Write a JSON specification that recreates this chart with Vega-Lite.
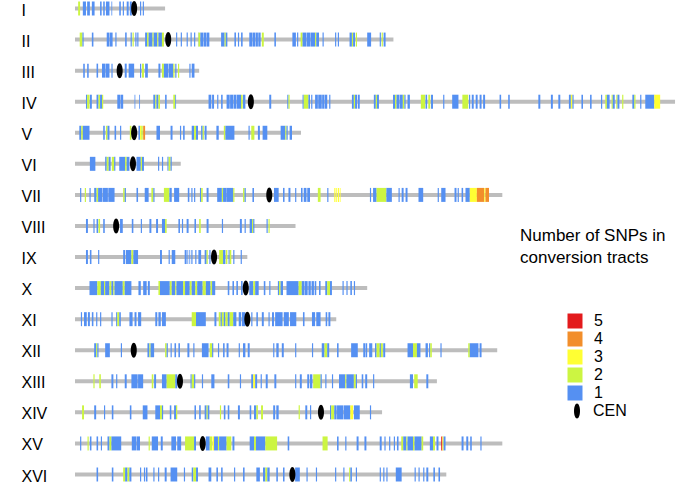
{
  "$schema": "https://vega.github.io/schema/vega-lite/v6.json",
  "width": 602,
  "height": 484,
  "autosize": {"type": "none"},
  "padding": {"left": 75, "top": 0, "right": 0, "bottom": 0},
  "background": "white",
  "config": {"font": "Liberation Sans", "view": {"stroke": null}},
  "resolve": {"scale": {"color": "independent"}, "legend": {"color": "independent"}},
  "datasets": {
    "chroms": [
      {"c":"I","z":0,"len":230,"cen":151,"t":"CEN"},{"c":"II","z":0,"len":813,"cen":238,"t":"CEN"},{"c":"III","z":0,"len":317,"cen":114,"t":"CEN"},{"c":"IV","z":0,"len":1532,"cen":449,"t":"CEN"},
      {"c":"V","z":0,"len":577,"cen":151,"t":"CEN"},{"c":"VI","z":0,"len":270,"cen":148,"t":"CEN"},{"c":"VII","z":0,"len":1091,"cen":496,"t":"CEN"},{"c":"VIII","z":0,"len":563,"cen":105,"t":"CEN"},
      {"c":"IX","z":0,"len":440,"cen":355,"t":"CEN"},{"c":"X","z":0,"len":746,"cen":436,"t":"CEN"},{"c":"XI","z":0,"len":667,"cen":440,"t":"CEN"},{"c":"XII","z":0,"len":1078,"cen":150,"t":"CEN"},
      {"c":"XIII","z":0,"len":924,"cen":268,"t":"CEN"},{"c":"XIV","z":0,"len":784,"cen":628,"t":"CEN"},{"c":"XV","z":0,"len":1091,"cen":326,"t":"CEN"},{"c":"XVI","z":0,"len":948,"cen":555,"t":"CEN"}
    ],
    "levels": [{"n":5},{"n":4},{"n":3},{"n":2},{"n":1}],
    "segs": [
      {"c":"I","s":8,"e":13,"n":2},{"c":"I","s":20,"e":28,"n":1},{"c":"I","s":31,"e":38,"n":1},{"c":"I","s":43,"e":50,"n":1},{"c":"I","s":64,"e":68,"n":1},{"c":"I","s":72,"e":76,"n":1},{"c":"I","s":79,"e":88,"n":1},{"c":"I","s":93,"e":95,"n":1},{"c":"I","s":113,"e":117,"n":1},{"c":"I","s":122,"e":125,"n":1},{"c":"I","s":132,"e":137,"n":1},{"c":"I","s":140,"e":145,"n":1},{"c":"I","s":166,"e":169,"n":1},{"c":"I","s":173,"e":176,"n":1},
      {"c":"II","s":12,"e":19,"n":2},{"c":"II","s":19,"e":22,"n":1},{"c":"II","s":43,"e":47,"n":1},{"c":"II","s":81,"e":88,"n":1},{"c":"II","s":89,"e":96,"n":1},{"c":"II","s":103,"e":106,"n":1},{"c":"II","s":128,"e":132,"n":1},{"c":"II","s":142,"e":145,"n":1},{"c":"II","s":147,"e":150,"n":2},{"c":"II","s":154,"e":157,"n":1},{"c":"II","s":159,"e":162,"n":1},{"c":"II","s":179,"e":184,"n":1},{"c":"II","s":184,"e":188,"n":2},{"c":"II","s":188,"e":198,"n":1},{"c":"II","s":198,"e":201,"n":2},{"c":"II","s":201,"e":210,"n":1},{"c":"II","s":210,"e":213,"n":2},{"c":"II","s":213,"e":222,"n":1},{"c":"II","s":222,"e":227,"n":2},{"c":"II","s":258,"e":261,"n":1},{"c":"II","s":270,"e":273,"n":1},{"c":"II","s":285,"e":288,"n":1},{"c":"II","s":295,"e":298,"n":1},{"c":"II","s":304,"e":307,"n":1},{"c":"II","s":314,"e":315,"n":1},{"c":"II","s":315,"e":320,"n":2},{"c":"II","s":320,"e":328,"n":1},{"c":"II","s":329,"e":336,"n":1},{"c":"II","s":337,"e":343,"n":1},{"c":"II","s":373,"e":382,"n":1},{"c":"II","s":382,"e":385,"n":2},{"c":"II","s":385,"e":389,"n":1},{"c":"II","s":407,"e":411,"n":1},{"c":"II","s":416,"e":419,"n":1},{"c":"II","s":424,"e":428,"n":1},{"c":"II","s":445,"e":452,"n":1},{"c":"II","s":453,"e":460,"n":1},{"c":"II","s":461,"e":467,"n":1},{"c":"II","s":468,"e":474,"n":1},{"c":"II","s":477,"e":482,"n":2},{"c":"II","s":509,"e":513,"n":1},{"c":"II","s":555,"e":564,"n":1},{"c":"II","s":567,"e":570,"n":1},{"c":"II","s":576,"e":581,"n":2},{"c":"II","s":581,"e":590,"n":1},{"c":"II","s":591,"e":600,"n":1},{"c":"II","s":601,"e":613,"n":1},{"c":"II","s":613,"e":616,"n":2},{"c":"II","s":616,"e":623,"n":1},{"c":"II","s":632,"e":635,"n":1},{"c":"II","s":664,"e":667,"n":1},{"c":"II","s":671,"e":674,"n":1},{"c":"II","s":701,"e":707,"n":1},{"c":"II","s":707,"e":710,"n":2},{"c":"II","s":710,"e":715,"n":1},{"c":"II","s":717,"e":720,"n":2},{"c":"II","s":746,"e":756,"n":1},{"c":"II","s":778,"e":781,"n":1},{"c":"II","s":783,"e":786,"n":2},{"c":"II","s":788,"e":793,"n":1},
      {"c":"III","s":21,"e":25,"n":1},{"c":"III","s":31,"e":35,"n":1},{"c":"III","s":55,"e":59,"n":1},{"c":"III","s":69,"e":78,"n":1},{"c":"III","s":79,"e":88,"n":1},{"c":"III","s":93,"e":96,"n":1},{"c":"III","s":127,"e":132,"n":1},{"c":"III","s":137,"e":151,"n":1},{"c":"III","s":166,"e":169,"n":1},{"c":"III","s":171,"e":176,"n":2},{"c":"III","s":179,"e":186,"n":1},{"c":"III","s":213,"e":218,"n":1},{"c":"III","s":222,"e":227,"n":2},{"c":"III","s":227,"e":238,"n":1},{"c":"III","s":239,"e":251,"n":1},{"c":"III","s":251,"e":254,"n":2},{"c":"III","s":256,"e":259,"n":1},{"c":"III","s":263,"e":266,"n":2},{"c":"III","s":292,"e":295,"n":1},{"c":"III","s":298,"e":305,"n":1},
      {"c":"IV","s":28,"e":31,"n":1},{"c":"IV","s":31,"e":37,"n":2},{"c":"IV","s":38,"e":43,"n":1},{"c":"IV","s":55,"e":60,"n":1},{"c":"IV","s":60,"e":64,"n":2},{"c":"IV","s":64,"e":69,"n":1},{"c":"IV","s":69,"e":72,"n":2},{"c":"IV","s":108,"e":115,"n":1},{"c":"IV","s":116,"e":123,"n":1},{"c":"IV","s":152,"e":154,"n":1},{"c":"IV","s":164,"e":166,"n":1},{"c":"IV","s":200,"e":205,"n":1},{"c":"IV","s":205,"e":208,"n":2},{"c":"IV","s":208,"e":213,"n":1},{"c":"IV","s":213,"e":217,"n":2},{"c":"IV","s":230,"e":234,"n":1},{"c":"IV","s":251,"e":256,"n":2},{"c":"IV","s":256,"e":258,"n":1},{"c":"IV","s":341,"e":348,"n":1},{"c":"IV","s":350,"e":355,"n":1},{"c":"IV","s":363,"e":366,"n":1},{"c":"IV","s":373,"e":377,"n":1},{"c":"IV","s":387,"e":395,"n":1},{"c":"IV","s":396,"e":404,"n":1},{"c":"IV","s":405,"e":412,"n":1},{"c":"IV","s":413,"e":424,"n":1},{"c":"IV","s":424,"e":428,"n":2},{"c":"IV","s":429,"e":435,"n":1},{"c":"IV","s":496,"e":501,"n":1},{"c":"IV","s":542,"e":545,"n":1},{"c":"IV","s":545,"e":548,"n":2},{"c":"IV","s":581,"e":584,"n":1},{"c":"IV","s":584,"e":596,"n":2},{"c":"IV","s":596,"e":600,"n":1},{"c":"IV","s":603,"e":606,"n":1},{"c":"IV","s":613,"e":620,"n":1},{"c":"IV","s":621,"e":630,"n":1},{"c":"IV","s":631,"e":637,"n":1},{"c":"IV","s":638,"e":644,"n":1},{"c":"IV","s":649,"e":652,"n":1},{"c":"IV","s":707,"e":712,"n":1},{"c":"IV","s":712,"e":715,"n":2},{"c":"IV","s":715,"e":720,"n":1},{"c":"IV","s":722,"e":727,"n":1},{"c":"IV","s":763,"e":768,"n":1},{"c":"IV","s":768,"e":771,"n":2},{"c":"IV","s":771,"e":776,"n":1},{"c":"IV","s":812,"e":817,"n":1},{"c":"IV","s":817,"e":821,"n":2},{"c":"IV","s":821,"e":828,"n":1},{"c":"IV","s":829,"e":837,"n":1},{"c":"IV","s":837,"e":841,"n":2},{"c":"IV","s":841,"e":844,"n":1},{"c":"IV","s":849,"e":855,"n":1},{"c":"IV","s":883,"e":894,"n":2},{"c":"IV","s":895,"e":899,"n":1},{"c":"IV","s":902,"e":907,"n":2},{"c":"IV","s":909,"e":914,"n":1},{"c":"IV","s":940,"e":943,"n":1},{"c":"IV","s":963,"e":979,"n":1},{"c":"IV","s":989,"e":1004,"n":2},{"c":"IV","s":1006,"e":1009,"n":1},{"c":"IV","s":1013,"e":1018,"n":1},{"c":"IV","s":1023,"e":1028,"n":1},{"c":"IV","s":1033,"e":1038,"n":1},{"c":"IV","s":1042,"e":1047,"n":1},{"c":"IV","s":1084,"e":1088,"n":1},{"c":"IV","s":1106,"e":1110,"n":1},{"c":"IV","s":1183,"e":1188,"n":1},{"c":"IV","s":1215,"e":1220,"n":1},{"c":"IV","s":1234,"e":1239,"n":1},{"c":"IV","s":1261,"e":1266,"n":1},{"c":"IV","s":1266,"e":1270,"n":3},{"c":"IV","s":1270,"e":1273,"n":1},{"c":"IV","s":1293,"e":1297,"n":1},{"c":"IV","s":1315,"e":1319,"n":1},{"c":"IV","s":1343,"e":1346,"n":1},{"c":"IV","s":1354,"e":1358,"n":2},{"c":"IV","s":1358,"e":1365,"n":1},{"c":"IV","s":1370,"e":1373,"n":2},{"c":"IV","s":1373,"e":1378,"n":1},{"c":"IV","s":1382,"e":1385,"n":2},{"c":"IV","s":1385,"e":1390,"n":1},{"c":"IV","s":1397,"e":1400,"n":2},{"c":"IV","s":1423,"e":1428,"n":1},{"c":"IV","s":1428,"e":1431,"n":2},{"c":"IV","s":1443,"e":1446,"n":1},{"c":"IV","s":1456,"e":1479,"n":1},{"c":"IV","s":1479,"e":1494,"n":3},
      {"c":"V","s":11,"e":16,"n":1},{"c":"V","s":16,"e":20,"n":2},{"c":"V","s":20,"e":37,"n":1},{"c":"V","s":72,"e":76,"n":1},{"c":"V","s":79,"e":83,"n":2},{"c":"V","s":83,"e":88,"n":1},{"c":"V","s":101,"e":105,"n":1},{"c":"V","s":115,"e":118,"n":1},{"c":"V","s":140,"e":144,"n":2},{"c":"V","s":162,"e":166,"n":1},{"c":"V","s":166,"e":169,"n":3},{"c":"V","s":169,"e":173,"n":2},{"c":"V","s":174,"e":179,"n":4},{"c":"V","s":208,"e":217,"n":1},{"c":"V","s":244,"e":249,"n":1},{"c":"V","s":268,"e":271,"n":1},{"c":"V","s":276,"e":280,"n":1},{"c":"V","s":298,"e":304,"n":1},{"c":"V","s":304,"e":309,"n":2},{"c":"V","s":309,"e":314,"n":1},{"c":"V","s":322,"e":326,"n":1},{"c":"V","s":326,"e":329,"n":2},{"c":"V","s":331,"e":336,"n":1},{"c":"V","s":361,"e":367,"n":1},{"c":"V","s":380,"e":384,"n":2},{"c":"V","s":384,"e":407,"n":1},{"c":"V","s":443,"e":446,"n":1},{"c":"V","s":450,"e":458,"n":2},{"c":"V","s":467,"e":472,"n":1},{"c":"V","s":479,"e":491,"n":1},{"c":"V","s":525,"e":537,"n":1},{"c":"V","s":537,"e":540,"n":2},{"c":"V","s":540,"e":543,"n":1},{"c":"V","s":548,"e":554,"n":1},
      {"c":"VI","s":38,"e":52,"n":1},{"c":"VI","s":77,"e":81,"n":1},{"c":"VI","s":81,"e":86,"n":2},{"c":"VI","s":86,"e":91,"n":1},{"c":"VI","s":94,"e":100,"n":2},{"c":"VI","s":100,"e":103,"n":1},{"c":"VI","s":113,"e":128,"n":1},{"c":"VI","s":128,"e":132,"n":2},{"c":"VI","s":132,"e":139,"n":1},{"c":"VI","s":157,"e":168,"n":1},{"c":"VI","s":168,"e":171,"n":2},{"c":"VI","s":171,"e":176,"n":1},{"c":"VI","s":212,"e":215,"n":1},{"c":"VI","s":222,"e":225,"n":1},{"c":"VI","s":236,"e":239,"n":1},{"c":"VI","s":239,"e":244,"n":2},{"c":"VI","s":244,"e":247,"n":1},
      {"c":"VII","s":13,"e":16,"n":1},{"c":"VII","s":25,"e":28,"n":2},{"c":"VII","s":37,"e":40,"n":1},{"c":"VII","s":49,"e":55,"n":1},{"c":"VII","s":55,"e":59,"n":2},{"c":"VII","s":59,"e":70,"n":1},{"c":"VII","s":71,"e":84,"n":1},{"c":"VII","s":85,"e":101,"n":1},{"c":"VII","s":123,"e":127,"n":2},{"c":"VII","s":127,"e":130,"n":1},{"c":"VII","s":157,"e":161,"n":1},{"c":"VII","s":178,"e":188,"n":1},{"c":"VII","s":195,"e":200,"n":2},{"c":"VII","s":200,"e":203,"n":1},{"c":"VII","s":227,"e":241,"n":2},{"c":"VII","s":241,"e":247,"n":1},{"c":"VII","s":253,"e":266,"n":1},{"c":"VII","s":288,"e":292,"n":1},{"c":"VII","s":297,"e":300,"n":1},{"c":"VII","s":304,"e":307,"n":1},{"c":"VII","s":319,"e":322,"n":1},{"c":"VII","s":322,"e":326,"n":2},{"c":"VII","s":336,"e":341,"n":1},{"c":"VII","s":363,"e":375,"n":1},{"c":"VII","s":375,"e":378,"n":2},{"c":"VII","s":378,"e":387,"n":1},{"c":"VII","s":387,"e":404,"n":1},{"c":"VII","s":404,"e":407,"n":2},{"c":"VII","s":429,"e":433,"n":2},{"c":"VII","s":433,"e":436,"n":1},{"c":"VII","s":453,"e":457,"n":1},{"c":"VII","s":508,"e":520,"n":1},{"c":"VII","s":531,"e":535,"n":1},{"c":"VII","s":545,"e":550,"n":1},{"c":"VII","s":562,"e":565,"n":1},{"c":"VII","s":577,"e":581,"n":1},{"c":"VII","s":584,"e":591,"n":1},{"c":"VII","s":593,"e":600,"n":1},{"c":"VII","s":620,"e":627,"n":2},{"c":"VII","s":644,"e":647,"n":1},{"c":"VII","s":662,"e":665,"n":3},{"c":"VII","s":667,"e":669,"n":3},{"c":"VII","s":671,"e":674,"n":3},{"c":"VII","s":676,"e":678,"n":3},{"c":"VII","s":753,"e":756,"n":1},{"c":"VII","s":761,"e":770,"n":1},{"c":"VII","s":770,"e":795,"n":2},{"c":"VII","s":795,"e":809,"n":1},{"c":"VII","s":826,"e":829,"n":1},{"c":"VII","s":834,"e":839,"n":1},{"c":"VII","s":844,"e":849,"n":1},{"c":"VII","s":877,"e":889,"n":1},{"c":"VII","s":926,"e":929,"n":1},{"c":"VII","s":935,"e":946,"n":1},{"c":"VII","s":969,"e":974,"n":1},{"c":"VII","s":977,"e":980,"n":1},{"c":"VII","s":987,"e":991,"n":1},{"c":"VII","s":997,"e":1008,"n":1},{"c":"VII","s":1008,"e":1026,"n":3},{"c":"VII","s":1026,"e":1045,"n":4},{"c":"VII","s":1045,"e":1048,"n":3},{"c":"VII","s":1048,"e":1057,"n":4},
      {"c":"VIII","s":28,"e":33,"n":1},{"c":"VIII","s":47,"e":50,"n":1},{"c":"VIII","s":55,"e":59,"n":1},{"c":"VIII","s":60,"e":64,"n":2},{"c":"VIII","s":72,"e":76,"n":1},{"c":"VIII","s":115,"e":122,"n":1},{"c":"VIII","s":145,"e":149,"n":1},{"c":"VIII","s":168,"e":171,"n":1},{"c":"VIII","s":190,"e":195,"n":1},{"c":"VIII","s":207,"e":212,"n":1},{"c":"VIII","s":222,"e":230,"n":1},{"c":"VIII","s":230,"e":234,"n":2},{"c":"VIII","s":264,"e":268,"n":1},{"c":"VIII","s":273,"e":276,"n":1},{"c":"VIII","s":285,"e":290,"n":1},{"c":"VIII","s":305,"e":309,"n":1},{"c":"VIII","s":317,"e":321,"n":2},{"c":"VIII","s":336,"e":341,"n":1},{"c":"VIII","s":375,"e":378,"n":1},{"c":"VIII","s":421,"e":426,"n":1},{"c":"VIII","s":433,"e":436,"n":1},{"c":"VIII","s":446,"e":452,"n":1},{"c":"VIII","s":452,"e":455,"n":2},{"c":"VIII","s":455,"e":458,"n":1},{"c":"VIII","s":489,"e":492,"n":1},{"c":"VIII","s":494,"e":497,"n":2},
      {"c":"IX","s":28,"e":33,"n":1},{"c":"IX","s":38,"e":42,"n":1},{"c":"IX","s":59,"e":62,"n":1},{"c":"IX","s":123,"e":128,"n":1},{"c":"IX","s":130,"e":144,"n":1},{"c":"IX","s":144,"e":149,"n":2},{"c":"IX","s":149,"e":161,"n":1},{"c":"IX","s":217,"e":222,"n":1},{"c":"IX","s":239,"e":242,"n":1},{"c":"IX","s":247,"e":256,"n":1},{"c":"IX","s":280,"e":285,"n":1},{"c":"IX","s":287,"e":289,"n":1},{"c":"IX","s":292,"e":294,"n":1},{"c":"IX","s":297,"e":300,"n":1},{"c":"IX","s":307,"e":310,"n":1},{"c":"IX","s":315,"e":322,"n":1},{"c":"IX","s":331,"e":336,"n":1},{"c":"IX","s":336,"e":339,"n":2},{"c":"IX","s":343,"e":346,"n":1},{"c":"IX","s":368,"e":378,"n":2},{"c":"IX","s":378,"e":384,"n":1},{"c":"IX","s":385,"e":389,"n":2},{"c":"IX","s":392,"e":395,"n":1},{"c":"IX","s":395,"e":399,"n":2},{"c":"IX","s":404,"e":407,"n":1},{"c":"IX","s":423,"e":426,"n":1},
      {"c":"X","s":37,"e":57,"n":1},{"c":"X","s":57,"e":66,"n":2},{"c":"X","s":66,"e":74,"n":1},{"c":"X","s":74,"e":77,"n":2},{"c":"X","s":77,"e":88,"n":1},{"c":"X","s":88,"e":93,"n":2},{"c":"X","s":93,"e":98,"n":1},{"c":"X","s":98,"e":101,"n":2},{"c":"X","s":101,"e":122,"n":1},{"c":"X","s":122,"e":127,"n":2},{"c":"X","s":127,"e":144,"n":1},{"c":"X","s":162,"e":168,"n":1},{"c":"X","s":174,"e":183,"n":1},{"c":"X","s":186,"e":191,"n":1},{"c":"X","s":213,"e":217,"n":2},{"c":"X","s":217,"e":242,"n":1},{"c":"X","s":242,"e":247,"n":2},{"c":"X","s":247,"e":256,"n":1},{"c":"X","s":256,"e":259,"n":2},{"c":"X","s":259,"e":276,"n":1},{"c":"X","s":276,"e":281,"n":2},{"c":"X","s":281,"e":293,"n":1},{"c":"X","s":293,"e":298,"n":2},{"c":"X","s":298,"e":307,"n":1},{"c":"X","s":307,"e":312,"n":2},{"c":"X","s":312,"e":326,"n":1},{"c":"X","s":326,"e":334,"n":2},{"c":"X","s":334,"e":346,"n":1},{"c":"X","s":346,"e":350,"n":2},{"c":"X","s":350,"e":358,"n":1},{"c":"X","s":390,"e":394,"n":1},{"c":"X","s":402,"e":406,"n":1},{"c":"X","s":412,"e":416,"n":1},{"c":"X","s":424,"e":428,"n":1},{"c":"X","s":445,"e":455,"n":1},{"c":"X","s":455,"e":460,"n":2},{"c":"X","s":460,"e":469,"n":1},{"c":"X","s":482,"e":486,"n":1},{"c":"X","s":496,"e":499,"n":1},{"c":"X","s":518,"e":521,"n":1},{"c":"X","s":521,"e":525,"n":2},{"c":"X","s":525,"e":531,"n":1},{"c":"X","s":540,"e":571,"n":1},{"c":"X","s":571,"e":579,"n":2},{"c":"X","s":579,"e":586,"n":1},{"c":"X","s":587,"e":594,"n":1},{"c":"X","s":596,"e":602,"n":1},{"c":"X","s":604,"e":610,"n":1},{"c":"X","s":612,"e":616,"n":1},{"c":"X","s":623,"e":627,"n":1},{"c":"X","s":639,"e":644,"n":1},{"c":"X","s":644,"e":651,"n":2},{"c":"X","s":651,"e":656,"n":1},{"c":"X","s":683,"e":686,"n":1},{"c":"X","s":693,"e":696,"n":1},{"c":"X","s":703,"e":707,"n":1},{"c":"X","s":712,"e":715,"n":1},
      {"c":"XI","s":15,"e":18,"n":1},{"c":"XI","s":23,"e":30,"n":1},{"c":"XI","s":33,"e":38,"n":1},{"c":"XI","s":43,"e":47,"n":1},{"c":"XI","s":54,"e":57,"n":1},{"c":"XI","s":64,"e":67,"n":1},{"c":"XI","s":93,"e":96,"n":1},{"c":"XI","s":105,"e":108,"n":1},{"c":"XI","s":108,"e":113,"n":2},{"c":"XI","s":113,"e":117,"n":1},{"c":"XI","s":139,"e":147,"n":1},{"c":"XI","s":152,"e":157,"n":1},{"c":"XI","s":161,"e":169,"n":1},{"c":"XI","s":205,"e":210,"n":1},{"c":"XI","s":213,"e":219,"n":1},{"c":"XI","s":222,"e":232,"n":1},{"c":"XI","s":298,"e":309,"n":2},{"c":"XI","s":309,"e":334,"n":1},{"c":"XI","s":356,"e":361,"n":1},{"c":"XI","s":367,"e":372,"n":2},{"c":"XI","s":372,"e":375,"n":1},{"c":"XI","s":375,"e":380,"n":2},{"c":"XI","s":380,"e":384,"n":1},{"c":"XI","s":384,"e":390,"n":2},{"c":"XI","s":390,"e":395,"n":1},{"c":"XI","s":395,"e":404,"n":2},{"c":"XI","s":404,"e":412,"n":1},{"c":"XI","s":418,"e":424,"n":1},{"c":"XI","s":426,"e":435,"n":1},{"c":"XI","s":450,"e":453,"n":1},{"c":"XI","s":463,"e":467,"n":1},{"c":"XI","s":477,"e":482,"n":1},{"c":"XI","s":494,"e":497,"n":1},{"c":"XI","s":503,"e":508,"n":1},{"c":"XI","s":511,"e":530,"n":1},{"c":"XI","s":533,"e":546,"n":1},{"c":"XI","s":549,"e":565,"n":1},{"c":"XI","s":582,"e":586,"n":1},{"c":"XI","s":605,"e":613,"n":1},{"c":"XI","s":616,"e":627,"n":1},{"c":"XI","s":640,"e":644,"n":1},{"c":"XI","s":647,"e":652,"n":1},
      {"c":"XII","s":49,"e":54,"n":1},{"c":"XII","s":54,"e":57,"n":2},{"c":"XII","s":57,"e":60,"n":1},{"c":"XII","s":77,"e":89,"n":1},{"c":"XII","s":117,"e":120,"n":1},{"c":"XII","s":185,"e":190,"n":1},{"c":"XII","s":190,"e":193,"n":2},{"c":"XII","s":193,"e":202,"n":1},{"c":"XII","s":230,"e":234,"n":2},{"c":"XII","s":234,"e":237,"n":1},{"c":"XII","s":244,"e":247,"n":1},{"c":"XII","s":254,"e":258,"n":1},{"c":"XII","s":264,"e":268,"n":1},{"c":"XII","s":287,"e":292,"n":1},{"c":"XII","s":302,"e":305,"n":1},{"c":"XII","s":324,"e":341,"n":1},{"c":"XII","s":344,"e":350,"n":2},{"c":"XII","s":350,"e":353,"n":1},{"c":"XII","s":365,"e":368,"n":1},{"c":"XII","s":378,"e":382,"n":1},{"c":"XII","s":387,"e":392,"n":1},{"c":"XII","s":418,"e":421,"n":1},{"c":"XII","s":429,"e":435,"n":1},{"c":"XII","s":441,"e":446,"n":1},{"c":"XII","s":506,"e":509,"n":1},{"c":"XII","s":514,"e":520,"n":1},{"c":"XII","s":528,"e":533,"n":1},{"c":"XII","s":562,"e":565,"n":1},{"c":"XII","s":605,"e":608,"n":1},{"c":"XII","s":630,"e":637,"n":1},{"c":"XII","s":637,"e":644,"n":2},{"c":"XII","s":644,"e":649,"n":1},{"c":"XII","s":669,"e":673,"n":1},{"c":"XII","s":705,"e":722,"n":1},{"c":"XII","s":736,"e":741,"n":1},{"c":"XII","s":742,"e":746,"n":1},{"c":"XII","s":751,"e":759,"n":1},{"c":"XII","s":766,"e":770,"n":1},{"c":"XII","s":770,"e":778,"n":2},{"c":"XII","s":778,"e":781,"n":1},{"c":"XII","s":781,"e":786,"n":2},{"c":"XII","s":787,"e":792,"n":1},{"c":"XII","s":849,"e":863,"n":1},{"c":"XII","s":863,"e":873,"n":2},{"c":"XII","s":873,"e":882,"n":1},{"c":"XII","s":895,"e":901,"n":1},{"c":"XII","s":904,"e":907,"n":1},{"c":"XII","s":907,"e":911,"n":2},{"c":"XII","s":933,"e":936,"n":1},{"c":"XII","s":1004,"e":1008,"n":2},{"c":"XII","s":1008,"e":1030,"n":1},{"c":"XII","s":1033,"e":1038,"n":1},
      {"c":"XIII","s":47,"e":50,"n":2},{"c":"XIII","s":62,"e":66,"n":2},{"c":"XIII","s":93,"e":98,"n":1},{"c":"XIII","s":105,"e":108,"n":1},{"c":"XIII","s":127,"e":132,"n":1},{"c":"XIII","s":144,"e":160,"n":1},{"c":"XIII","s":161,"e":174,"n":1},{"c":"XIII","s":196,"e":200,"n":2},{"c":"XIII","s":202,"e":207,"n":1},{"c":"XIII","s":222,"e":234,"n":1},{"c":"XIII","s":234,"e":256,"n":2},{"c":"XIII","s":256,"e":261,"n":1},{"c":"XIII","s":295,"e":298,"n":1},{"c":"XIII","s":298,"e":304,"n":2},{"c":"XIII","s":304,"e":307,"n":1},{"c":"XIII","s":324,"e":327,"n":1},{"c":"XIII","s":348,"e":356,"n":1},{"c":"XIII","s":390,"e":394,"n":1},{"c":"XIII","s":421,"e":424,"n":1},{"c":"XIII","s":450,"e":455,"n":1},{"c":"XIII","s":455,"e":460,"n":3},{"c":"XIII","s":460,"e":465,"n":1},{"c":"XIII","s":474,"e":477,"n":1},{"c":"XIII","s":487,"e":492,"n":1},{"c":"XIII","s":509,"e":514,"n":1},{"c":"XIII","s":562,"e":565,"n":1},{"c":"XIII","s":574,"e":579,"n":1},{"c":"XIII","s":593,"e":598,"n":1},{"c":"XIII","s":600,"e":606,"n":1},{"c":"XIII","s":608,"e":627,"n":2},{"c":"XIII","s":627,"e":630,"n":1},{"c":"XIII","s":639,"e":642,"n":1},{"c":"XIII","s":656,"e":659,"n":1},{"c":"XIII","s":674,"e":690,"n":1},{"c":"XIII","s":690,"e":693,"n":2},{"c":"XIII","s":693,"e":712,"n":1},{"c":"XIII","s":712,"e":717,"n":2},{"c":"XIII","s":717,"e":720,"n":1},{"c":"XIII","s":732,"e":736,"n":1},{"c":"XIII","s":741,"e":746,"n":1},{"c":"XIII","s":761,"e":764,"n":1},{"c":"XIII","s":855,"e":863,"n":1},{"c":"XIII","s":866,"e":875,"n":2},{"c":"XIII","s":897,"e":902,"n":1},
      {"c":"XIV","s":18,"e":23,"n":2},{"c":"XIV","s":49,"e":54,"n":1},{"c":"XIV","s":74,"e":77,"n":1},{"c":"XIV","s":94,"e":98,"n":1},{"c":"XIV","s":140,"e":144,"n":1},{"c":"XIV","s":173,"e":185,"n":1},{"c":"XIV","s":205,"e":217,"n":1},{"c":"XIV","s":217,"e":222,"n":2},{"c":"XIV","s":222,"e":225,"n":1},{"c":"XIV","s":242,"e":246,"n":1},{"c":"XIV","s":253,"e":258,"n":1},{"c":"XIV","s":258,"e":261,"n":2},{"c":"XIV","s":305,"e":309,"n":1},{"c":"XIV","s":317,"e":321,"n":1},{"c":"XIV","s":331,"e":336,"n":1},{"c":"XIV","s":336,"e":339,"n":2},{"c":"XIV","s":339,"e":343,"n":1},{"c":"XIV","s":370,"e":373,"n":2},{"c":"XIV","s":380,"e":384,"n":1},{"c":"XIV","s":390,"e":394,"n":1},{"c":"XIV","s":416,"e":421,"n":1},{"c":"XIV","s":446,"e":450,"n":1},{"c":"XIV","s":457,"e":463,"n":1},{"c":"XIV","s":463,"e":467,"n":2},{"c":"XIV","s":475,"e":480,"n":2},{"c":"XIV","s":506,"e":511,"n":1},{"c":"XIV","s":514,"e":520,"n":1},{"c":"XIV","s":571,"e":574,"n":2},{"c":"XIV","s":588,"e":593,"n":1},{"c":"XIV","s":600,"e":603,"n":1},{"c":"XIV","s":651,"e":654,"n":1},{"c":"XIV","s":654,"e":662,"n":2},{"c":"XIV","s":662,"e":668,"n":1},{"c":"XIV","s":669,"e":685,"n":1},{"c":"XIV","s":686,"e":703,"n":1},{"c":"XIV","s":703,"e":710,"n":3},{"c":"XIV","s":712,"e":727,"n":1},{"c":"XIV","s":753,"e":756,"n":1},
      {"c":"XV","s":13,"e":16,"n":1},{"c":"XV","s":32,"e":35,"n":2},{"c":"XV","s":38,"e":42,"n":1},{"c":"XV","s":55,"e":59,"n":1},{"c":"XV","s":66,"e":69,"n":1},{"c":"XV","s":83,"e":88,"n":1},{"c":"XV","s":88,"e":93,"n":2},{"c":"XV","s":93,"e":118,"n":1},{"c":"XV","s":145,"e":157,"n":1},{"c":"XV","s":158,"e":166,"n":1},{"c":"XV","s":188,"e":191,"n":2},{"c":"XV","s":196,"e":212,"n":1},{"c":"XV","s":219,"e":224,"n":1},{"c":"XV","s":246,"e":258,"n":1},{"c":"XV","s":261,"e":271,"n":1},{"c":"XV","s":281,"e":304,"n":2},{"c":"XV","s":304,"e":309,"n":1},{"c":"XV","s":334,"e":344,"n":1},{"c":"XV","s":344,"e":350,"n":2},{"c":"XV","s":351,"e":355,"n":3},{"c":"XV","s":355,"e":365,"n":1},{"c":"XV","s":365,"e":368,"n":2},{"c":"XV","s":368,"e":387,"n":1},{"c":"XV","s":387,"e":399,"n":2},{"c":"XV","s":402,"e":407,"n":1},{"c":"XV","s":446,"e":457,"n":1},{"c":"XV","s":457,"e":462,"n":2},{"c":"XV","s":462,"e":486,"n":1},{"c":"XV","s":486,"e":516,"n":2},{"c":"XV","s":543,"e":547,"n":1},{"c":"XV","s":632,"e":645,"n":2},{"c":"XV","s":669,"e":673,"n":1},{"c":"XV","s":690,"e":693,"n":1},{"c":"XV","s":719,"e":724,"n":1},{"c":"XV","s":739,"e":744,"n":1},{"c":"XV","s":778,"e":783,"n":1},{"c":"XV","s":790,"e":793,"n":1},{"c":"XV","s":802,"e":805,"n":1},{"c":"XV","s":814,"e":817,"n":1},{"c":"XV","s":822,"e":826,"n":1},{"c":"XV","s":833,"e":838,"n":2},{"c":"XV","s":838,"e":846,"n":1},{"c":"XV","s":846,"e":849,"n":2},{"c":"XV","s":849,"e":863,"n":1},{"c":"XV","s":863,"e":867,"n":2},{"c":"XV","s":867,"e":885,"n":1},{"c":"XV","s":885,"e":889,"n":2},{"c":"XV","s":906,"e":914,"n":1},{"c":"XV","s":914,"e":919,"n":2},{"c":"XV","s":923,"e":928,"n":1},{"c":"XV","s":935,"e":938,"n":5},{"c":"XV","s":938,"e":941,"n":3},{"c":"XV","s":941,"e":946,"n":1},{"c":"XV","s":987,"e":992,"n":1},{"c":"XV","s":999,"e":1004,"n":1},{"c":"XV","s":1009,"e":1013,"n":1},{"c":"XV","s":1035,"e":1038,"n":1},
      {"c":"XVI","s":55,"e":59,"n":1},{"c":"XVI","s":94,"e":98,"n":1},{"c":"XVI","s":123,"e":128,"n":2},{"c":"XVI","s":128,"e":134,"n":1},{"c":"XVI","s":134,"e":139,"n":2},{"c":"XVI","s":139,"e":144,"n":1},{"c":"XVI","s":166,"e":169,"n":1},{"c":"XVI","s":176,"e":179,"n":1},{"c":"XVI","s":181,"e":185,"n":1},{"c":"XVI","s":200,"e":203,"n":1},{"c":"XVI","s":212,"e":215,"n":1},{"c":"XVI","s":229,"e":234,"n":1},{"c":"XVI","s":244,"e":261,"n":1},{"c":"XVI","s":278,"e":281,"n":1},{"c":"XVI","s":298,"e":302,"n":1},{"c":"XVI","s":302,"e":309,"n":2},{"c":"XVI","s":309,"e":314,"n":1},{"c":"XVI","s":341,"e":348,"n":1},{"c":"XVI","s":361,"e":365,"n":1},{"c":"XVI","s":373,"e":377,"n":1},{"c":"XVI","s":406,"e":409,"n":1},{"c":"XVI","s":429,"e":433,"n":1},{"c":"XVI","s":463,"e":472,"n":1},{"c":"XVI","s":480,"e":486,"n":1},{"c":"XVI","s":486,"e":491,"n":2},{"c":"XVI","s":491,"e":497,"n":1},{"c":"XVI","s":514,"e":518,"n":1},{"c":"XVI","s":531,"e":535,"n":1},{"c":"XVI","s":562,"e":574,"n":1},{"c":"XVI","s":591,"e":594,"n":1},{"c":"XVI","s":615,"e":618,"n":1},{"c":"XVI","s":664,"e":667,"n":1},{"c":"XVI","s":685,"e":688,"n":1},{"c":"XVI","s":700,"e":703,"n":2},{"c":"XVI","s":703,"e":707,"n":1},{"c":"XVI","s":717,"e":720,"n":1},{"c":"XVI","s":778,"e":781,"n":1},{"c":"XVI","s":787,"e":790,"n":1},{"c":"XVI","s":795,"e":798,"n":1},{"c":"XVI","s":819,"e":834,"n":1},{"c":"XVI","s":867,"e":870,"n":1},{"c":"XVI","s":877,"e":880,"n":1},{"c":"XVI","s":889,"e":892,"n":1},{"c":"XVI","s":897,"e":902,"n":1},{"c":"XVI","s":915,"e":919,"n":1},{"c":"XVI","s":928,"e":932,"n":1}
    ]
  },
  "layer": [
    {
      "data": {"name": "chroms"},
      "mark": {"type": "rule", "strokeWidth": 4, "color": "#bdbdbd"},
      "encoding": {
        "y": {
          "field": "c", "type": "nominal",
          "scale": {"type": "point", "domain": ["I","II","III","IV","V","VI","VII","VIII","IX","X","XI","XII","XIII","XIV","XV","XVI"], "range": [8.5, 474.5], "padding": 0},
          "axis": {"title": null, "domain": false, "ticks": false, "labelPadding": 54, "labelAlign": "left", "labelBaseline": "middle", "labelOffset": 1.5, "labelFontSize": 16, "labelColor": "black", "labelFont": "Liberation Sans", "grid": false}
        },
        "x": {"field": "z", "type": "quantitative", "scale": {"domain": [0, 1537], "nice": false, "zero": false}, "axis": null},
        "x2": {"field": "len"}
      }
    },
    {
      "data": {"name": "segs"},
      "mark": {"type": "rule", "strokeWidth": 14, "strokeCap": "butt", "opacity": 1},
      "encoding": {
        "y": {"field": "c", "type": "nominal"},
        "x": {"field": "s", "type": "quantitative"},
        "x2": {"field": "e"},
        "color": {
          "field": "n", "type": "ordinal",
          "scale": {"domain": [5, 4, 3, 2, 1], "range": ["#e31a1c", "#f28e2b", "#ffff33", "#ccf542", "#5590f2"]},
          "legend": null
        }
      }
    },
    {
      "data": {"name": "levels"},
      "mark": {"type": "point", "shape": "square", "filled": true, "opacity": 1, "size": 0},
      "encoding": {
        "y": {"datum": "I", "type": "nominal"},
        "x": {"datum": 0, "type": "quantitative"},
        "color": {
          "field": "n", "type": "ordinal",
          "scale": {"domain": [5, 4, 3, 2, 1], "range": ["#e31a1c", "#f28e2b", "#ffff33", "#ccf542", "#5590f2"]},
          "legend": {
            "title": ["Number of SNPs in", "conversion tracts"],
            "orient": "none", "legendX": 445, "legendY": 228,
            "titleFontSize": 17, "titleFontWeight": "normal", "titleLineHeight": 22, "titleColor": "black", "titleFont": "Liberation Sans",
            "titlePadding": 46,
            "symbolType": "square", "symbolSize": 225, "symbolOffset": 47, "symbolStrokeWidth": 0, "symbolOpacity": 1,
            "labelOffset": 11, "labelFontSize": 16, "labelColor": "black", "labelFont": "Liberation Sans",
            "rowPadding": 2
          }
        }
      }
    },
    {
      "data": {"name": "chroms"},
      "mark": {"type": "point", "filled": true, "color": "black", "opacity": 1, "size": 225},
      "encoding": {
        "y": {"field": "c", "type": "nominal"},
        "x": {"field": "cen", "type": "quantitative"},
        "shape": {
          "field": "t", "type": "nominal",
          "scale": {"domain": ["CEN"], "range": ["M-0.4,0A0.4,1,0,1,1,0.4,0A0.4,1,0,1,1,-0.4,0Z"]},
          "legend": {
            "title": null, "orient": "none", "legendX": 494, "legendY": 403,
            "symbolSize": 225, "symbolFillColor": "black", "symbolStrokeWidth": 0,
            "labelOffset": 8, "labelFontSize": 16, "labelColor": "black", "labelFont": "Liberation Sans"
          }
        }
      }
    }
  ]
}
